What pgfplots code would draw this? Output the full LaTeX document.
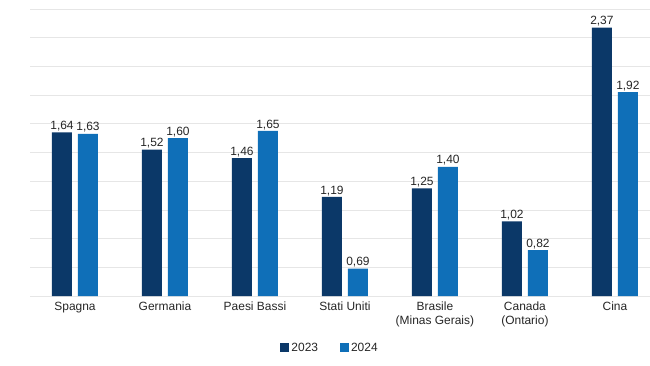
\documentclass[border=0pt]{standalone}
\usepackage{pgfplots}
\pgfplotsset{compat=1.18}
\usepackage{fontspec}
\setmainfont{Liberation Sans}
\definecolor{c23}{HTML}{0B3868}
\definecolor{c24}{HTML}{0F6FB8}
\definecolor{gridc}{HTML}{E6E6E6}
\definecolor{txt}{HTML}{262626}
\begin{document}
\begin{tikzpicture}
\begin{axis}[
  scale only axis,
  width=620bp, height=287bp,
  ybar=6bp, bar width=20bp,
  xmin=-0.5, xmax=6.39,
  ymin=0.5, ymax=2.5,
  ytick={0.5,0.7,...,2.6},
  yticklabels={},
  ymajorgrids, grid style={gridc, line width=0.8pt},
  major tick length=0pt,
  axis line style={draw=none},
  xtick=data,
  xticklabels={Spagna,Germania,Paesi Bassi,Stati Uniti,{Brasile\\(Minas Gerais)},{Canada\\(Ontario)},Cina},
  xticklabel style={align=center, font=\fontsize{12}{13.2}\selectfont, text=txt, inner sep=0pt, yshift=-6bp, anchor=north},
  nodes near coords,
  nodes near coords style={font=\fontsize{12}{12}\selectfont, text=txt, inner sep=1.2pt, /pgf/number format/.cd, fixed, fixed zerofill, precision=2, use comma, assume math mode=true},
  legend style={at={(0.484,-0.181)}, anchor=center, draw=none, legend columns=2, font=\fontsize{12}{12}\selectfont, text=txt, /tikz/every even column/.append style={column sep=20bp}},
  legend image code/.code={\fill[#1] (0bp,-4.5bp) rectangle (9bp,4.5bp);},
]
\addplot[fill=c23, draw=none] coordinates {(0,1.64) (1,1.52) (2,1.46) (3,1.19) (4,1.25) (5,1.02) (6,2.37)};
\addplot[fill=c24, draw=none] coordinates {(0,1.63) (1,1.60) (2,1.65) (3,0.69) (4,1.40) (5,0.82) (6,1.92)};
\legend{2023,2024}
\end{axis}
\pgfresetboundingbox
\path ([xshift=-30bp,yshift=-70bp]current axis.south west) rectangle ([yshift=9bp]current axis.north east);
\end{tikzpicture}
\end{document}
